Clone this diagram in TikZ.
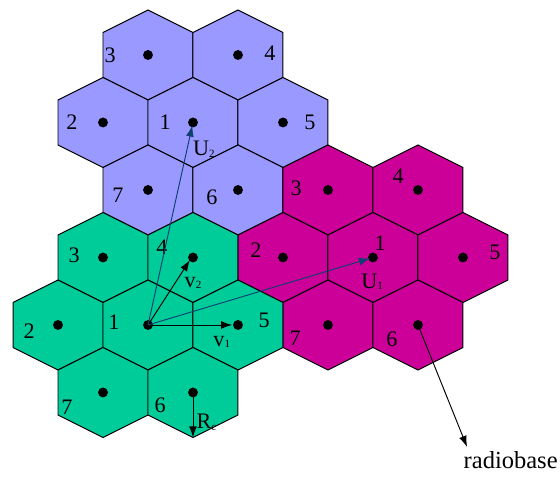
\documentclass[tikz,border=0pt]{standalone}
\usepackage{fontspec}
\setmainfont{Liberation Serif}
\usetikzlibrary{arrows.meta}
\definecolor{cellblue}{HTML}{9999FF}
\definecolor{cellgreen}{HTML}{00CC99}
\definecolor{cellmag}{HTML}{CC0099}
\definecolor{vecblue}{RGB}{16,64,112}
\newcommand{\lowsub}[1]{\raisebox{-.15ex}{\fontsize{7}{8}\selectfont #1}}
\tikzset{
  cell/.style={draw=black,line width=.63pt},
  lab/.style={font=\fontsize{14}{16}\selectfont,inner sep=0pt},
  vec/.style={-{Latex[length=7pt,width=5pt]},line width=.6pt},
}

\begin{document}
\begin{tikzpicture}[x=1cm,y=1cm]
  \useasboundingbox (-3.289,1.222) rectangle (9.156,-9.378);
  \foreach \n/\x/\y/\t/\dx/\dy/\c in {
    b3/0/0/3/-.84/0/cellblue, b4/2/0/4/.71/.04/cellblue,
    b2/-1/-1.5/2/-.69/0/cellblue, b1/1/-1.5/1/-.62/0/cellblue, b5/3/-1.5/5/.6/0/cellblue,
    b7/0/-3/7/-.67/-.11/cellblue, b6/2/-3/6/-.58/-.16/cellblue,
    m3/4/-3/3/-.71/.04/cellmag, m4/6/-3/4/-.44/.31/cellmag,
    m2/3/-4.5/2/-.6/.16/cellmag, m1/5/-4.5/1/.16/.31/cellmag, m5/7/-4.5/5/.71/.11/cellmag,
    m7/4/-6/7/-.73/-.29/cellmag, m6/6/-6/6/-.58/-.31/cellmag,
    g3/-1/-4.5/3/-.64/.04/cellgreen, g4/1/-4.5/4/-.69/.22/cellgreen,
    g2/-2/-6/2/-.64/-.13/cellgreen, g1/0/-6/1/-.76/.07/cellgreen, g5/2/-6/5/.58/.11/cellgreen,
    g7/-1/-7.5/7/-.8/-.33/cellgreen, g6/1/-7.5/6/-.73/-.29/cellgreen}
  {
    \filldraw[cell,fill=\c] (\x,\y) +(0,1) -- +(1,.5) -- +(1,-.5) -- +(0,-1) -- +(-1,-.5) -- +(-1,.5) -- cycle;
    \coordinate (\n) at (\x,\y);
    \node[lab] (\n-t) at (\x+\dx,\y+\dy) {\t};
  }
  \foreach \n in {b1,b2,b3,b4,b5,b6,b7,m1,m2,m3,m4,m5,m6,m7,g1,g2,g3,g4,g5,g6,g7}
    {\fill (\n) circle (.11);}

  \coordinate (v1tip) at (1.87,-6);
  \coordinate (v2tip) at (.93,-4.56);
  \coordinate (rctip) at (1,-8.5);
  \coordinate (rbtip) at (7.09,-8.71);
  \draw[vec] (g1) -- (v1tip);
  \draw[vec] (g1) -- (v2tip);
  \draw[vec,vecblue,shorten >=2pt] (g1) -- (b1);
  \draw[vec,vecblue,shorten >=2pt] (g1) -- (m1);
  \draw[vec] (g6) -- (rctip);
  \draw[vec] (m6) -- (rbtip);

  \node[lab] (v1) at (1.64,-6.38) {v\lowsub{1}};
  \node[lab] (v2) at (1.0,-5.07) {v\lowsub{2}};
  \node[lab] (u2) at (1.24,-2.09) {U\lowsub{2}};
  \node[lab] (u1) at (4.98,-5.04) {U\lowsub{1}};
  \node[lab] (rc) at (1.3,-8.16) {R\lowsub{c}};
  \node[lab,font=\fontsize{15.5}{17}\selectfont] (rb) at (8.06,-9.0) {radiobase};
\end{tikzpicture}
\end{document}
